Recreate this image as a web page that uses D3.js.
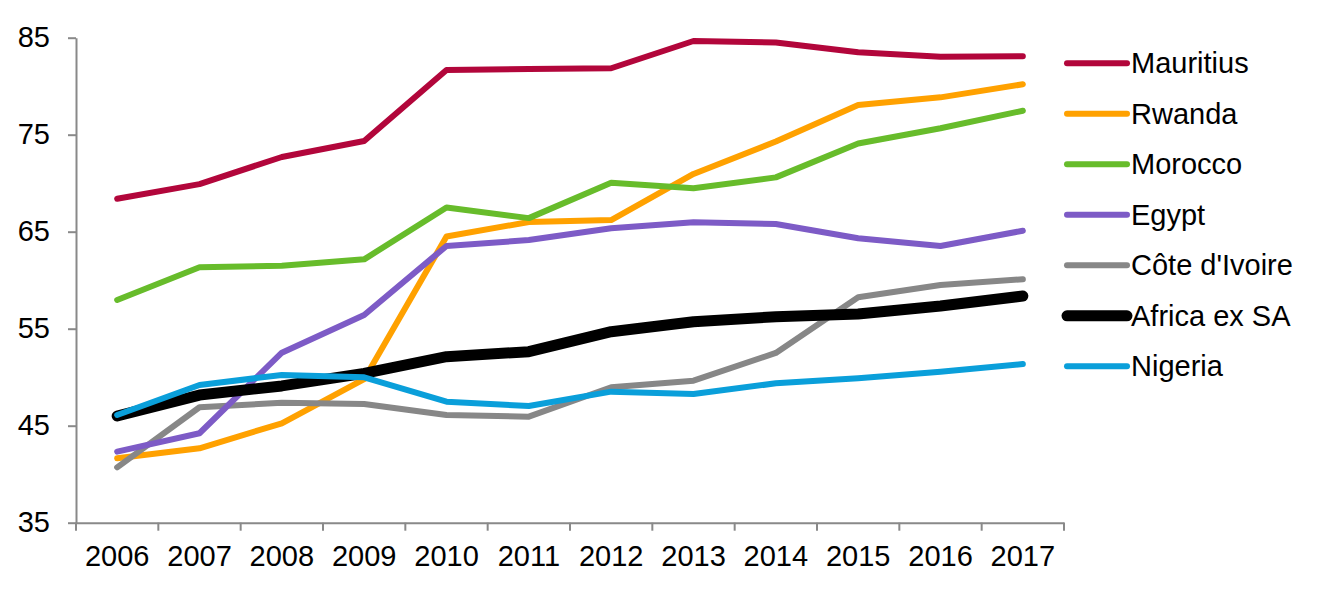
<!DOCTYPE html>
<html>
<head>
<meta charset="utf-8">
<script src="https://cdn.jsdelivr.net/npm/d3@7"></script>
<style>
  html, body { margin: 0; padding: 0; background: #fff; }
  svg { display: block; font-family: "Liberation Sans", Arial, sans-serif; }
</style>
</head>
<body>
<svg id="chart" width="1317" height="594"></svg>
<script>
const years = ["2006","2007","2008","2009","2010","2011","2012","2013","2014","2015","2016","2017"];
const yTicks = [35, 45, 55, 65, 75, 85];

const mauritius = [68.4, 69.9, 72.7, 74.35, 81.67, 81.77, 81.85, 84.66, 84.5, 83.5, 83.04, 83.1];
const rwanda    = [41.64, 42.67, 45.25, 49.8, 64.5, 66.0, 66.2, 70.95, 74.3, 78.06, 78.85, 80.2];
const morocco   = [57.96, 61.33, 61.5, 62.15, 67.5, 66.4, 70.05, 69.47, 70.6, 74.1, 75.66, 77.47];
const egypt     = [42.32, 44.22, 52.53, 56.41, 63.53, 64.14, 65.35, 65.97, 65.8, 64.32, 63.53, 65.1];
const coteDIvoire = [40.71, 46.9, 47.37, 47.24, 46.1, 45.93, 48.96, 49.64, 52.5, 58.24, 59.5, 60.1];
const africaExSA = [46.0, 48.16, 49.1, 50.4, 52.11, 52.63, 54.69, 55.72, 56.24, 56.51, 57.34, 58.37];
const nigeria   = [46.1, 49.2, 50.23, 49.99, 47.47, 47.03, 48.51, 48.27, 49.37, 49.89, 50.57, 51.36];

const seriesNames = ["Mauritius", "Rwanda", "Morocco", "Egypt", "Côte d'Ivoire", "Africa ex SA", "Nigeria"];
const seriesValues = [mauritius, rwanda, morocco, egypt, coteDIvoire, africaExSA, nigeria];
const seriesColors = ["#B2063B", "#FFA100", "#67BC2B", "#7D5BC6", "#878787", "#000000", "#0A9FDA"];
const seriesWidths = [6, 6, 6, 6, 6, 11, 6];

const svg = d3.select("#chart");
const plotLeft = 76, plotRight = 1064, plotTop = 37.7, plotBottom = 522.7;
const fontSize = 29;
const axisColor = "#898989";

const x = d3.scaleBand().domain(years).range([plotLeft, plotRight]);
const y = d3.scaleLinear().domain([35, 85]).range([plotBottom, plotTop]);

// Y axis
const yAxis = svg.append("g")
  .attr("transform", `translate(${plotLeft},0)`)
  .call(d3.axisLeft(y).tickValues(yTicks).tickSize(8).tickSizeOuter(0).tickPadding(18).tickFormat(d3.format("d")));
yAxis.select(".domain").attr("stroke", axisColor).attr("stroke-width", 2);
yAxis.selectAll(".tick line").attr("stroke", axisColor).attr("stroke-width", 2);
yAxis.selectAll(".tick text").attr("fill", "#000").style("font-size", fontSize + "px")
  .style("font-family", "'Liberation Sans', Arial, sans-serif");

// X axis
const xAxis = svg.append("g")
  .attr("transform", `translate(0,${plotBottom})`)
  .call(d3.axisBottom(x).tickSize(0).tickSizeOuter(0).tickPadding(23));
xAxis.select(".domain").attr("stroke", axisColor).attr("stroke-width", 2);
xAxis.selectAll(".tick text").attr("fill", "#000").style("font-size", fontSize + "px")
  .style("font-family", "'Liberation Sans', Arial, sans-serif");
// Boundary ticks
const boundaries = years.map(d => x(d)).concat([x(years[years.length - 1]) + x.bandwidth()]);
svg.append("g").selectAll("line").data(boundaries).join("line")
  .attr("x1", d => d).attr("x2", d => d)
  .attr("y1", plotBottom).attr("y2", plotBottom + 8)
  .attr("stroke", axisColor).attr("stroke-width", 2);

// Lines
const line = d3.line()
  .x((d, i) => x(years[i]) + x.bandwidth() / 2)
  .y(d => y(d));

const order = [0, 1, 2, 4, 3, 5, 6];
svg.append("g").selectAll("path").data(order).join("path")
  .attr("d", i => line(seriesValues[i]))
  .attr("fill", "none")
  .attr("stroke", i => seriesColors[i])
  .attr("stroke-width", i => seriesWidths[i])
  .attr("stroke-linecap", "round")
  .attr("stroke-linejoin", "round");

// Legend
const legend = svg.append("g");
const legendX1 = 1067, legendX2 = 1127, legendTextX = 1131, legendY0 = 63.3, legendStep = 50.5;
seriesNames.forEach((name, i) => {
  const yy = legendY0 + i * legendStep;
  legend.append("line")
    .attr("x1", legendX1).attr("x2", legendX2)
    .attr("y1", yy).attr("y2", yy)
    .attr("stroke", seriesColors[i])
    .attr("stroke-width", seriesWidths[i])
    .attr("stroke-linecap", "round");
  legend.append("text")
    .attr("x", legendTextX).attr("y", yy)
    .attr("dy", "0.35em")
    .style("font-size", fontSize + "px")
    .attr("fill", "#000")
    .text(name);
});
</script>
</body>
</html>
